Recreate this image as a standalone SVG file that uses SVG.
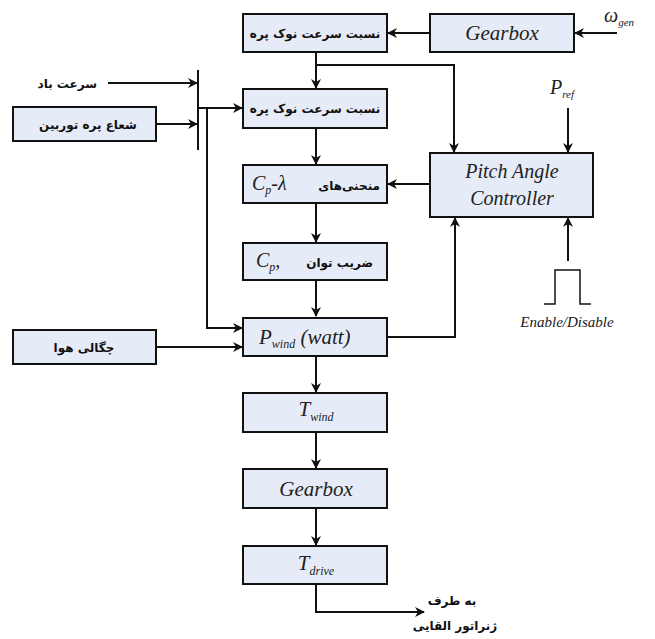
<svg xmlns="http://www.w3.org/2000/svg" width="655" height="639" viewBox="0 0 655 639">
<style>
.box{fill:#e6ecf7;stroke:#111;stroke-width:2}
.ln{fill:none;stroke:#111;stroke-width:2}
.it{font-family:"Liberation Serif","Times New Roman","DejaVu Serif",serif;font-style:italic;fill:#222}
.fa{font-family:"DejaVu Sans",sans-serif;font-weight:bold;fill:#111;font-size:12px}
</style>
<defs>
<marker id="ah" markerWidth="10" markerHeight="10" refX="9" refY="5" orient="auto" markerUnits="userSpaceOnUse">
<path d="M0,0 L10,5 L0,10 L3,5 Z" fill="#111"/>
</marker>
</defs>
<rect width="655" height="639" fill="#fff"/>
<g id="connectors">
<line class="ln" x1="617" y1="33" x2="575" y2="33" marker-end="url(#ah)"/>
<line class="ln" x1="430" y1="33" x2="388" y2="33" marker-end="url(#ah)"/>
<line class="ln" x1="316" y1="52" x2="316" y2="88" marker-end="url(#ah)"/>
<polyline class="ln" points="316,65 454,65 454,152" marker-end="url(#ah)"/>
<line class="ln" x1="568" y1="108" x2="568" y2="152" marker-end="url(#ah)"/>
<line class="ln" x1="108" y1="83" x2="197" y2="83" marker-end="url(#ah)"/>
<line class="ln" x1="156" y1="124" x2="197" y2="124" marker-end="url(#ah)"/>
<line class="ln" x1="198" y1="70" x2="198" y2="150"/>
<line class="ln" x1="198" y1="108" x2="242" y2="108" marker-end="url(#ah)"/>
<polyline class="ln" points="207,108 207,328 242,328" marker-end="url(#ah)"/>
<line class="ln" x1="156" y1="347" x2="242" y2="347" marker-end="url(#ah)"/>
<line class="ln" x1="316" y1="128" x2="316" y2="164" marker-end="url(#ah)"/>
<line class="ln" x1="430" y1="184" x2="388" y2="184" marker-end="url(#ah)"/>
<line class="ln" x1="316" y1="203" x2="316" y2="242" marker-end="url(#ah)"/>
<line class="ln" x1="316" y1="280" x2="316" y2="316" marker-end="url(#ah)"/>
<polyline class="ln" points="387,337 455,337 455,218" marker-end="url(#ah)"/>
<line class="ln" x1="568" y1="261" x2="568" y2="218" marker-end="url(#ah)"/>
<line class="ln" x1="316" y1="356" x2="316" y2="392" marker-end="url(#ah)"/>
<line class="ln" x1="316" y1="432" x2="316" y2="468" marker-end="url(#ah)"/>
<line class="ln" x1="316" y1="508" x2="316" y2="545" marker-end="url(#ah)"/>
<polyline class="ln" points="316,584 316,612 424,612" marker-end="url(#ah)"/>
<polyline class="ln" points="544,304 555,304 555,270 580,270 580,304 591,304" style="stroke-width:1.5"/>
</g>
<g id="tsr1">
<rect class="box" x="243" y="14" width="144" height="38"/>
<text class="fa" x="315" y="38" text-anchor="middle">نسبت سرعت نوک پره</text>
</g>
<g id="gearbox-top">
<rect class="box" x="430" y="14" width="144" height="38"/>
<text class="it" x="502" y="40" font-size="21" text-anchor="middle">Gearbox</text>
</g>
<g id="omega-gen">
<text class="it" x="604" y="22" font-size="20">ω<tspan font-size="11" dy="4">gen</tspan></text>
</g>
<g id="wind-speed">
<text class="fa" x="97" y="88" text-anchor="end" font-size="16">سرعت باد</text>
</g>
<g id="blade-radius">
<rect class="box" x="13" y="107" width="143" height="34"/>
<text class="fa" x="88" y="129" text-anchor="middle">شعاع پره توربین</text>
</g>
<g id="tsr2">
<rect class="box" x="243" y="89" width="144" height="39"/>
<text class="fa" x="315" y="113" text-anchor="middle">نسبت سرعت نوک پره</text>
</g>
<g id="p-ref">
<text class="it" x="550" y="94" font-size="20">P<tspan font-size="11" dy="4">ref</tspan></text>
</g>
<g id="cp-lambda">
<rect class="box" x="243" y="165" width="144" height="38"/>
<text class="it" x="252" y="190" font-size="20">C<tspan font-size="12" dy="4">p</tspan><tspan dy="-4">-λ</tspan></text>
<text class="fa" x="380" y="190" text-anchor="end" font-size="13">منحنی‌های</text>
</g>
<g id="pitch-controller">
<rect class="box" x="430" y="153" width="163" height="64"/>
<text class="it" x="512" y="178" font-size="20" text-anchor="middle">Pitch Angle</text>
<text class="it" x="512" y="205" font-size="20" text-anchor="middle">Controller</text>
</g>
<g id="cp">
<rect class="box" x="243" y="243" width="144" height="37"/>
<text class="it" x="256" y="267" font-size="20">C<tspan font-size="12" dy="4">p</tspan><tspan dy="-4">,</tspan></text>
<text class="fa" x="373" y="267" text-anchor="end" font-size="13">ضریب توان</text>
</g>
<g id="enable-disable">
<text class="it" x="567" y="327" font-size="15" text-anchor="middle">Enable/Disable</text>
</g>
<g id="air-density">
<rect class="box" x="13" y="330" width="143" height="34"/>
<text class="fa" x="84" y="352" text-anchor="middle">چگالی هوا</text>
</g>
<g id="p-wind">
<rect class="box" x="243" y="318" width="144" height="38"/>
<text class="it" x="259" y="344" font-size="21">P<tspan font-size="12" dy="4">wind</tspan><tspan dy="-4"> (watt)</tspan></text>
</g>
<g id="t-wind">
<rect class="box" x="243" y="393" width="144" height="39"/>
<text class="it" x="316" y="416" font-size="21" text-anchor="middle">T<tspan font-size="12" dy="5">wind</tspan></text>
</g>
<g id="gearbox-bottom">
<rect class="box" x="243" y="469" width="144" height="39"/>
<text class="it" x="316" y="496" font-size="21" text-anchor="middle">Gearbox</text>
</g>
<g id="t-drive">
<rect class="box" x="243" y="546" width="144" height="38"/>
<text class="it" x="316" y="570" font-size="21" text-anchor="middle">T<tspan font-size="12" dy="5">drive</tspan></text>
</g>
<g id="to-generator">
<text class="fa" x="452" y="605" text-anchor="middle" font-size="13">به طرف</text>
<text class="fa" x="455" y="630" text-anchor="middle" font-size="13">ژنراتور القایی</text>
</g>
</svg>
